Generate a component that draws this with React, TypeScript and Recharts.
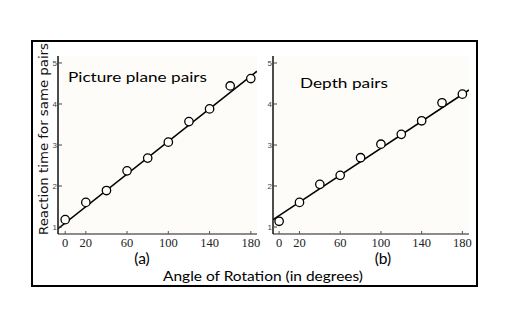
import React from 'react';
import { ComposedChart, XAxis, YAxis, Scatter, Line, CartesianGrid } from 'recharts';

const angles = [0, 20, 40, 60, 80, 100, 120, 140, 160, 180];
const pictureTimes = [1.18, 1.6, 1.89, 2.37, 2.68, 3.07, 3.57, 3.88, 4.44, 4.62];
const depthTimes = [1.14, 1.6, 2.04, 2.26, 2.69, 3.02, 3.26, 3.59, 4.03, 4.24];
const pictureFitX = [-7, 186];
const pictureFitY = [0.96, 4.8];
const depthFitX = [-6, 186.5];
const depthFitY = [1.18, 4.34];
const xTicks = [0, 20, 40, 60, 80, 100, 120, 140, 160, 180];
const xLabels = [0, 20, 60, 100, 140, 180];
const yTicks = [1, 2, 3, 4, 5];

const ptsA = angles.map((x, i) => ({ x, y: pictureTimes[i] }));
const ptsB = angles.map((x, i) => ({ x, y: depthTimes[i] }));
const fitA = pictureFitX.map((x, i) => ({ x, y: pictureFitY[i] }));
const fitB = depthFitX.map((x, i) => ({ x, y: depthFitY[i] }));

const XTick = (props: any) => {
  const { x, y, payload } = props;
  const v = payload.value;
  return (
    <g>
      <line x1={x} x2={x} y1={y} y2={y - 3} stroke="#555" strokeWidth={1} />
      {xLabels.includes(v) && (
        <text x={x} y={y + 13} textAnchor="middle" fontFamily="Liberation Serif" fontSize={12.5} fill="#222">
          {v}
        </text>
      )}
    </g>
  );
};

const YTickLeft = (props: any) => {
  const { x, y, payload } = props;
  return (
    <g>
      <line x1={x} x2={x + 4} y1={y} y2={y} stroke="#444" strokeWidth={1} />
      <text x={x - 1} y={y + 3} textAnchor="end" fontFamily="Liberation Sans" fontSize={8} fill="#444">
        {payload.value}
      </text>
    </g>
  );
};

const YTickRight = (props: any) => {
  const { x, y } = props;
  return <line x1={x} x2={x - 4} y1={y} y2={y} stroke="#444" strokeWidth={1} />;
};

const Dot = (props: any) => (
  <circle cx={props.cx} cy={props.cy} r={4.2} fill="#fff" stroke="#000" strokeWidth={1.3} />
);

const Panel = ({ pts, fit, domainX, yWidth, margin }: any) => (
  <ComposedChart width={240} height={220} margin={margin}>
    <CartesianGrid horizontal={false} vertical={false} fill="#fdfcf8" />
    <XAxis
      dataKey="x"
      type="number"
      domain={domainX}
      ticks={xTicks}
      tick={<XTick />}
      tickSize={0}
      tickMargin={0}
      tickLine={false}
      axisLine={{ stroke: '#666', strokeWidth: 1.5 }}
      height={20}
      allowDataOverflow
    />
    <XAxis
      xAxisId="top"
      orientation="top"
      dataKey="x"
      type="number"
      domain={domainX}
      tick={false}
      tickLine={false}
      axisLine={{ stroke: '#111', strokeWidth: 1.5 }}
      height={0}
      allowDataOverflow
    />
    <YAxis
      type="number"
      domain={[0.83, 5.17]}
      ticks={yTicks}
      tick={<YTickLeft />}
      tickSize={0}
      tickMargin={0}
      tickLine={false}
      axisLine={{ stroke: '#111', strokeWidth: 1.5 }}
      width={yWidth}
      allowDataOverflow
    />
    <YAxis
      yAxisId="right"
      orientation="right"
      type="number"
      domain={[0.83, 5.17]}
      ticks={yTicks}
      tick={<YTickRight />}
      tickSize={0}
      tickMargin={0}
      tickLine={false}
      axisLine={{ stroke: '#666', strokeWidth: 1.5 }}
      width={0}
      allowDataOverflow
    />
    <Line data={fit} dataKey="y" stroke="#000" strokeWidth={1.6} dot={false} isAnimationActive={false} />
    <Scatter data={pts} dataKey="y" shape={<Dot />} isAnimationActive={false} />
  </ComposedChart>
);

export default function App() {
  return (
    <div style={{ position: 'absolute', left: 0, top: 0, width: 512, height: 326, background: '#fff' }}>
      <div style={{ position: 'absolute', left: 30, top: 40 }}>
        <Panel pts={ptsA} fit={fitA} domainX={[-7, 186]} yWidth={20} margin={{ top: 16, right: 13, left: 8, bottom: 6 }} />
      </div>
      <div style={{ position: 'absolute', left: 250, top: 40 }}>
        <Panel pts={ptsB} fit={fitB} domainX={[-6, 186.5]} yWidth={15} margin={{ top: 16, right: 21, left: 8, bottom: 6 }} />
      </div>
      <svg width={512} height={326} style={{ position: 'absolute', left: 0, top: 0, pointerEvents: 'none' }}>
        <rect x={32} y={41} width={445} height={245} fill="none" stroke="#000" strokeWidth={2} />
        <text x={68} y={82} fontFamily="Lato" fontSize={14} fill="#000" textLength={139} lengthAdjust="spacingAndGlyphs">
          Picture plane pairs
        </text>
        <text x={300} y={88} fontFamily="Lato" fontSize={14} fill="#000" textLength={88} lengthAdjust="spacingAndGlyphs">
          Depth pairs
        </text>
        <text
          transform="translate(48,139) rotate(-90)"
          textAnchor="middle"
          fontFamily="DejaVu Sans"
          fontSize={12.5}
          fill="#111"
          textLength={192}
          lengthAdjust="spacingAndGlyphs"
        >
          Reaction time for same pairs
        </text>
        <text x={142} y={264} textAnchor="middle" fontFamily="Lato" fontSize={15.5} fill="#000">
          (a)
        </text>
        <text x={383} y={264} textAnchor="middle" fontFamily="Lato" fontSize={15.5} fill="#000">
          (b)
        </text>
        <text x={263} y={281} textAnchor="middle" fontFamily="Lato" fontSize={14} fill="#000" textLength={200} lengthAdjust="spacingAndGlyphs">
          Angle of Rotation (in degrees)
        </text>
      </svg>
    </div>
  );
}
